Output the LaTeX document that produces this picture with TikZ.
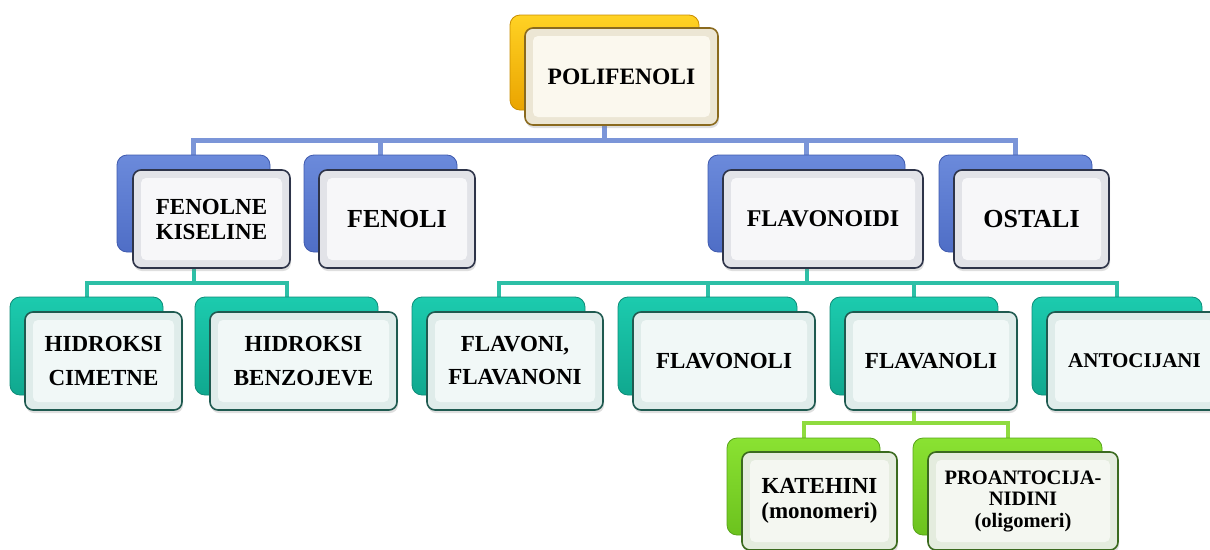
\documentclass[tikz,border=0pt]{standalone}
\usepackage{fontspec}
\setmainfont{Liberation Serif}
\usetikzlibrary{shadows,backgrounds}
\definecolor{goldTop}{HTML}{FFD224}
\definecolor{goldBot}{HTML}{EAA400}
\definecolor{goldLine}{HTML}{C98D00}
\definecolor{goldEdge}{HTML}{8A6A1E}
\definecolor{goldOut}{HTML}{ECE6D4}
\definecolor{goldIn}{HTML}{FBF8EE}
\definecolor{blueTop}{HTML}{6B8ADB}
\definecolor{blueBot}{HTML}{4F6EC6}
\definecolor{blueLine}{HTML}{3F5AAE}
\definecolor{blueEdge}{HTML}{2E3449}
\definecolor{blueOut}{HTML}{E2E3E8}
\definecolor{blueIn}{HTML}{F7F7F9}
\definecolor{tealTop}{HTML}{1CCBAE}
\definecolor{tealBot}{HTML}{10A88F}
\definecolor{tealLine}{HTML}{0E8C78}
\definecolor{tealEdge}{HTML}{1F5A50}
\definecolor{tealOut}{HTML}{DFECEA}
\definecolor{tealIn}{HTML}{F1F8F7}
\definecolor{greenTop}{HTML}{8AE232}
\definecolor{greenBot}{HTML}{6CC21E}
\definecolor{greenLine}{HTML}{58A41A}
\definecolor{greenEdge}{HTML}{3A6A1E}
\definecolor{greenOut}{HTML}{E4ECDE}
\definecolor{greenIn}{HTML}{F4F7F1}
\definecolor{cblue}{HTML}{7B95D8}
\definecolor{cteal}{HTML}{2DBFA6}
\definecolor{cgreen}{HTML}{8FDB3F}
\tikzset{
  bk/.style={draw=#1Line, top color=#1Top, bottom color=#1Bot, rounded corners=10pt,
    line width=0.8pt, anchor=north west, inner sep=0pt, outer sep=0pt},
  fr/.style={draw=#1Edge, fill=#1Out, rounded corners=8pt, line width=1.6pt,
    anchor=north west, align=center, inner sep=0pt, outer sep=0pt, text=black,
    drop shadow={shadow xshift=1pt, shadow yshift=-3pt, opacity=0.25},
    path picture={\fill[#1In, rounded corners=5pt]
      ([xshift=8pt,yshift=-8pt]path picture bounding box.north west) rectangle
      ([xshift=-8pt,yshift=8pt]path picture bounding box.south east);}},
  cb/.style={draw=cblue, line width=5pt},
  ct/.style={draw=cteal, line width=4pt},
  cg/.style={draw=cgreen, line width=4pt},
}
\newcommand{\fs}[2]{\fontsize{#1}{#2}\selectfont\bfseries}
\begin{document}
\begin{tikzpicture}[x=1pt,y=-1pt]
\useasboundingbox (0,0) rectangle (1210,549);
\clip (0,0) rectangle (1210,549);
% level 0
\node[bk=gold, minimum width=189pt, minimum height=95pt] (b-pol) at (510,15) {};
\node[fr=gold, minimum width=193pt, minimum height=97pt, font=\fs{23.5}{25}] (f-pol) at (525,28) {POLIFENOLI};
% level 1
\node[bk=blue, minimum width=153pt, minimum height=97pt] (b-fk) at (117,155) {};
\node[fr=blue, minimum width=157pt, minimum height=98pt, font=\fs{23}{25}] (f-fk) at (133,170) {FENOLNE\\KISELINE};
\node[bk=blue, minimum width=153pt, minimum height=97pt] (b-fen) at (304,155) {};
\node[fr=blue, minimum width=156pt, minimum height=98pt, font=\fs{26}{28}] (f-fen) at (319,170) {FENOLI};
\node[bk=blue, minimum width=197pt, minimum height=97pt] (b-flo) at (708,155) {};
\node[fr=blue, minimum width=200pt, minimum height=98pt, font=\fs{24}{26}] (f-flo) at (723,170) {FLAVONOIDI};
\node[bk=blue, minimum width=153pt, minimum height=97pt] (b-ost) at (939,155) {};
\node[fr=blue, minimum width=155pt, minimum height=98pt, font=\fs{26}{28}] (f-ost) at (954,170) {OSTALI};
% level 2
\node[bk=teal, minimum width=153pt, minimum height=98pt] (b-hc) at (10,297) {};
\node[fr=teal, minimum width=157pt, minimum height=98pt, font=\fs{23}{34}] (f-hc) at (25,312) {HIDROKSI\\CIMETNE};
\node[bk=teal, minimum width=183pt, minimum height=98pt] (b-hb) at (195,297) {};
\node[fr=teal, minimum width=187pt, minimum height=98pt, font=\fs{23}{34}] (f-hb) at (210,312) {HIDROKSI\\BENZOJEVE};
\node[bk=teal, minimum width=173pt, minimum height=98pt] (b-ff) at (412,297) {};
\node[fr=teal, minimum width=176pt, minimum height=98pt, font=\fs{23}{33}] (f-ff) at (427,312) {FLAVONI,\\FLAVANONI};
\node[bk=teal, minimum width=179pt, minimum height=98pt] (b-fol) at (618,297) {};
\node[fr=teal, minimum width=182pt, minimum height=98pt, font=\fs{23}{25}] (f-fol) at (633,312) {FLAVONOLI};
\node[bk=teal, minimum width=168pt, minimum height=98pt] (b-fan) at (830,297) {};
\node[fr=teal, minimum width=172pt, minimum height=98pt, font=\fs{23}{25}] (f-fan) at (845,312) {FLAVANOLI};
\node[bk=teal, minimum width=170pt, minimum height=98pt] (b-ant) at (1032,297) {};
\node[fr=teal, minimum width=175pt, minimum height=98pt, font=\fs{21}{23}] (f-ant) at (1047,312) {ANTOCIJANI};
% level 3
\node[bk=green, minimum width=153pt, minimum height=97pt] (b-kat) at (727,438) {};
\node[fr=green, minimum width=155pt, minimum height=98pt, font=\fs{23}{25}] (f-kat) at (742,452) {KATEHINI\\(monomeri)};
\node[bk=green, minimum width=189pt, minimum height=97pt] (b-pro) at (913,438) {};
\node[fr=green, minimum width=190pt, minimum height=98pt, font=\fs{20.5}{21.5}] (f-pro) at (928,452) {PROANTOCIJA-\\NIDINI\\(oligomeri)};
% connectors
\coordinate (bar1) at (0,140);
\coordinate (bar2) at (0,283);
\coordinate (bar3) at (0,423);
\begin{scope}[on background layer]
\foreach \c in {b-fk,b-fen,b-flo,b-ost}
  \draw[cb] (b-pol.south) |- (\c.north |- bar1) -- (\c.north);
\foreach \c in {b-hc,b-hb}
  \draw[ct] (b-fk.south) |- (\c.north |- bar2) -- (\c.north);
\foreach \c in {b-ff,b-fol,b-fan,b-ant}
  \draw[ct] (b-flo.south) |- (\c.north |- bar2) -- (\c.north);
\foreach \c in {b-kat,b-pro}
  \draw[cg] (b-fan.south) |- (\c.north |- bar3) -- (\c.north);
\end{scope}
\end{tikzpicture}
\end{document}
